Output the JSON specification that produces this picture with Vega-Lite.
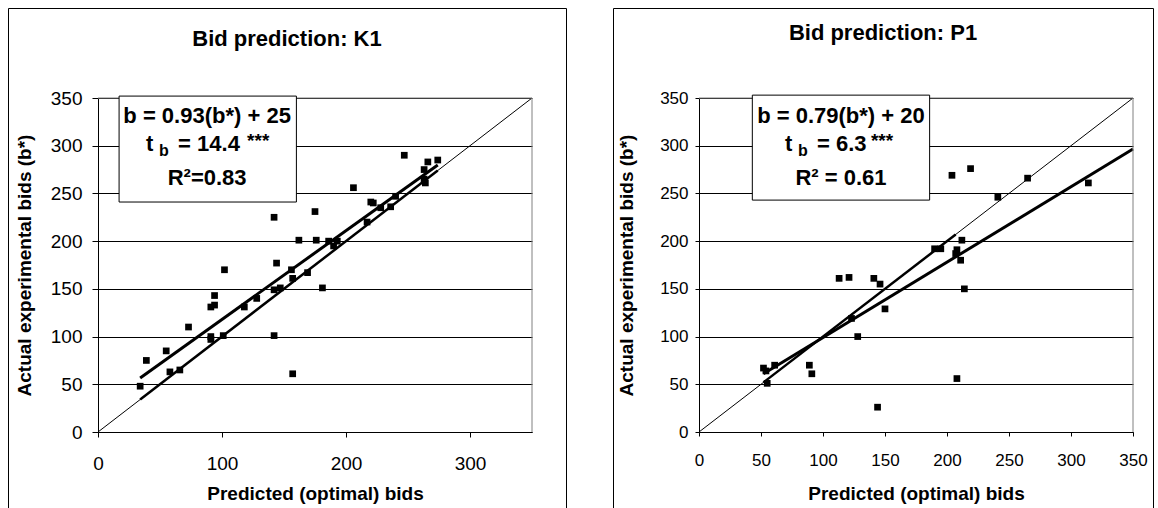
{
  "$schema": "https://vega.github.io/schema/vega-lite/v6.json",
  "background": "white",
  "padding": {"left": 7, "top": 7, "right": 0, "bottom": 0},
  "bounds": "flush",
  "spacing": 47,
  "config": {
    "font": "Liberation Sans",
    "view": {"stroke": "black", "strokeWidth": 1},
    "axis": {
      "labelFont": "Liberation Sans",
      "titleFont": "Liberation Sans",
      "labelColor": "black",
      "titleColor": "black",
      "domainColor": "black",
      "tickColor": "black",
      "gridColor": "black",
      "gridOpacity": 1,
      "gridWidth": 1,
      "domainWidth": 1,
      "tickWidth": 1,
      "titleFontWeight": "bold",
      "labelFlush": false,
      "labelOverlap": false
    },
    "title": {"font": "Liberation Sans", "fontWeight": "bold", "color": "black"}
  },
  "datasets": {
    "one": [{}],
    "k1_points": [
      {"pred": 34, "actual": 48}, {"pred": 39, "actual": 75}, {"pred": 55, "actual": 85},
      {"pred": 58, "actual": 63}, {"pred": 66, "actual": 65}, {"pred": 73, "actual": 110},
      {"pred": 91, "actual": 100}, {"pred": 91, "actual": 97}, {"pred": 91, "actual": 131},
      {"pred": 94, "actual": 133}, {"pred": 94, "actual": 143}, {"pred": 101, "actual": 101},
      {"pred": 102, "actual": 170}, {"pred": 118, "actual": 131}, {"pred": 128, "actual": 140},
      {"pred": 142, "actual": 101}, {"pred": 142, "actual": 149}, {"pred": 142, "actual": 225},
      {"pred": 144, "actual": 177}, {"pred": 147, "actual": 151}, {"pred": 156, "actual": 170},
      {"pred": 157, "actual": 161}, {"pred": 157, "actual": 61}, {"pred": 162, "actual": 201},
      {"pred": 169, "actual": 167}, {"pred": 175, "actual": 231}, {"pred": 176, "actual": 201},
      {"pred": 181, "actual": 151}, {"pred": 186, "actual": 200}, {"pred": 190, "actual": 195},
      {"pred": 193, "actual": 200}, {"pred": 206, "actual": 256}, {"pred": 217, "actual": 220},
      {"pred": 220, "actual": 241}, {"pred": 222, "actual": 240}, {"pred": 228, "actual": 235},
      {"pred": 236, "actual": 236}, {"pred": 240, "actual": 247}, {"pred": 247, "actual": 290},
      {"pred": 263, "actual": 275}, {"pred": 263, "actual": 265}, {"pred": 264, "actual": 261},
      {"pred": 266, "actual": 283}, {"pred": 274, "actual": 285}
    ],
    "k1_reg": [{"pred": 34, "actual": 56.6, "pred2": 274, "actual2": 279.8}],
    "k1_diag": [{"pred": 0, "actual": 0, "pred2": 350, "actual2": 350}],
    "k1_thick": [{"pred": 34, "actual": 34, "pred2": 274, "actual2": 274}],
    "p1_points": [
      {"pred": 52, "actual": 67}, {"pred": 54, "actual": 64}, {"pred": 55, "actual": 51},
      {"pred": 61, "actual": 70}, {"pred": 89, "actual": 70}, {"pred": 91, "actual": 61},
      {"pred": 113, "actual": 161}, {"pred": 121, "actual": 162}, {"pred": 123, "actual": 119},
      {"pred": 128, "actual": 100}, {"pred": 141, "actual": 161}, {"pred": 144, "actual": 26},
      {"pred": 146, "actual": 155}, {"pred": 150, "actual": 129}, {"pred": 190, "actual": 192},
      {"pred": 195, "actual": 192}, {"pred": 204, "actual": 269}, {"pred": 207, "actual": 187},
      {"pred": 208, "actual": 191}, {"pred": 208, "actual": 56}, {"pred": 211, "actual": 180},
      {"pred": 212, "actual": 201}, {"pred": 214, "actual": 150}, {"pred": 219, "actual": 276},
      {"pred": 241, "actual": 246}, {"pred": 265, "actual": 266}, {"pred": 314, "actual": 261}
    ],
    "p1_reg": [{"pred": 52, "actual": 61.1, "pred2": 350, "actual2": 296.5}],
    "p1_diag": [{"pred": 0, "actual": 0, "pred2": 350, "actual2": 350}],
    "p1_thick": [{"pred": 52, "actual": 52, "pred2": 207, "actual2": 207}]
  },
  "hconcat": [
    {
      "width": 558,
      "height": 500,
      "title": {"text": "Bid prediction: K1", "fontSize": 22, "offset": -43, "frame": "group", "anchor": "middle"},
      "layer": [
        {
          "data": {"name": "k1_points"},
          "mark": {"type": "square", "color": "black", "size": 45, "opacity": 1},
          "encoding": {
            "x": {"field": "pred", "type": "quantitative",
              "scale": {"domain": [0, 350], "range": [90, 524], "nice": false},
              "axis": {"orient": "bottom", "offset": -76, "values": [0, 100, 200, 300], "grid": false,
                "tickSize": 5, "labelFontSize": 19, "labelPadding": 17,
                "title": "Predicted (optimal) bids", "titleFontSize": 19, "titlePadding": 11}},
            "y": {"field": "actual", "type": "quantitative",
              "scale": {"domain": [0, 350], "range": [424, 90], "nice": false},
              "axis": {"orient": "left", "offset": -90, "values": [0, 50, 100, 150, 200, 250, 300, 350], "grid": true,
                "tickSize": 6, "labelFontSize": 19, "labelPadding": 10,
                "title": "Actual experimental bids (b*)", "titleFontSize": 19, "titlePadding": 16}}
          }
        },
        {
          "data": {"name": "k1_diag"},
          "mark": {"type": "rule", "color": "black", "strokeWidth": 1},
          "encoding": {"x": {"field": "pred", "type": "quantitative"}, "y": {"field": "actual", "type": "quantitative"},
            "x2": {"field": "pred2"}, "y2": {"field": "actual2"}}
        },
        {
          "data": {"name": "k1_thick"},
          "mark": {"type": "rule", "color": "black", "strokeWidth": 2.5},
          "encoding": {"x": {"field": "pred", "type": "quantitative"}, "y": {"field": "actual", "type": "quantitative"},
            "x2": {"field": "pred2"}, "y2": {"field": "actual2"}}
        },
        {
          "data": {"name": "k1_reg"},
          "mark": {"type": "rule", "color": "black", "strokeWidth": 3},
          "encoding": {"x": {"field": "pred", "type": "quantitative"}, "y": {"field": "actual", "type": "quantitative"},
            "x2": {"field": "pred2"}, "y2": {"field": "actual2"}}
        },
        {
          "data": {"name": "one"},
          "mark": {"type": "rule", "color": "#808080", "strokeWidth": 1},
          "encoding": {"x": {"datum": 0}, "x2": {"datum": 350}, "y": {"datum": 350}}
        },
        {
          "data": {"name": "one"},
          "mark": {"type": "rule", "color": "#808080", "strokeWidth": 1},
          "encoding": {"x": {"datum": 350}, "y": {"datum": 0}, "y2": {"datum": 350}}
        },
        {
          "data": {"name": "one"},
          "mark": {"type": "rect", "fill": "white", "stroke": "black", "strokeWidth": 1},
          "encoding": {"x": {"datum": 17}, "x2": {"datum": 160}, "y": {"datum": 241}, "y2": {"datum": 352}}
        },
        {
          "data": {"name": "one"},
          "mark": {"type": "text", "text": "b = 0.93(b*) + 25", "fontSize": 22, "fontWeight": "bold", "align": "center", "baseline": "middle", "color": "black"},
          "encoding": {"x": {"datum": 88}, "y": {"datum": 331}}
        },
        {
          "data": {"name": "one"},
          "mark": {"type": "text", "text": "t", "fontSize": 22, "fontWeight": "bold", "align": "left", "baseline": "middle", "dx": -61, "color": "black"},
          "encoding": {"x": {"datum": 88}, "y": {"datum": 302}}
        },
        {
          "data": {"name": "one"},
          "mark": {"type": "text", "text": "b", "fontSize": 16, "fontWeight": "bold", "align": "left", "baseline": "middle", "dx": -48, "dy": 7, "color": "black"},
          "encoding": {"x": {"datum": 88}, "y": {"datum": 302}}
        },
        {
          "data": {"name": "one"},
          "mark": {"type": "text", "text": "= 14.4", "fontSize": 22, "fontWeight": "bold", "align": "left", "baseline": "middle", "dx": -29, "color": "black"},
          "encoding": {"x": {"datum": 88}, "y": {"datum": 302}}
        },
        {
          "data": {"name": "one"},
          "mark": {"type": "text", "text": "***", "fontSize": 19, "fontWeight": "bold", "align": "left", "baseline": "middle", "dx": 40, "dy": -3, "color": "black"},
          "encoding": {"x": {"datum": 88}, "y": {"datum": 302}}
        },
        {
          "data": {"name": "one"},
          "mark": {"type": "text", "text": "R²=0.83", "fontSize": 22, "fontWeight": "bold", "align": "center", "baseline": "middle", "color": "black"},
          "encoding": {"x": {"datum": 88}, "y": {"datum": 266}}
        }
      ]
    },
    {
      "width": 540,
      "height": 500,
      "title": {"text": "Bid prediction: P1", "fontSize": 22, "offset": -37, "frame": "group", "anchor": "middle"},
      "layer": [
        {
          "data": {"name": "p1_points"},
          "mark": {"type": "square", "color": "black", "size": 45, "opacity": 1},
          "encoding": {
            "x": {"field": "pred", "type": "quantitative",
              "scale": {"domain": [0, 350], "range": [86, 520], "nice": false},
              "axis": {"orient": "bottom", "offset": -76, "values": [0, 50, 100, 150, 200, 250, 300, 350], "grid": false,
                "tickSize": 4, "labelFontSize": 17, "labelPadding": 16,
                "title": "Predicted (optimal) bids", "titleFontSize": 19, "titlePadding": 16}},
            "y": {"field": "actual", "type": "quantitative",
              "scale": {"domain": [0, 350], "range": [424, 90], "nice": false},
              "axis": {"orient": "left", "offset": -86, "values": [0, 50, 100, 150, 200, 250, 300, 350], "grid": true,
                "tickSize": 4, "labelFontSize": 17, "labelPadding": 7,
                "title": "Actual experimental bids (b*)", "titleFontSize": 19, "titlePadding": 23}}
          }
        },
        {
          "data": {"name": "p1_diag"},
          "mark": {"type": "rule", "color": "black", "strokeWidth": 1},
          "encoding": {"x": {"field": "pred", "type": "quantitative"}, "y": {"field": "actual", "type": "quantitative"},
            "x2": {"field": "pred2"}, "y2": {"field": "actual2"}}
        },
        {
          "data": {"name": "p1_thick"},
          "mark": {"type": "rule", "color": "black", "strokeWidth": 2.5},
          "encoding": {"x": {"field": "pred", "type": "quantitative"}, "y": {"field": "actual", "type": "quantitative"},
            "x2": {"field": "pred2"}, "y2": {"field": "actual2"}}
        },
        {
          "data": {"name": "p1_reg"},
          "mark": {"type": "rule", "color": "black", "strokeWidth": 3},
          "encoding": {"x": {"field": "pred", "type": "quantitative"}, "y": {"field": "actual", "type": "quantitative"},
            "x2": {"field": "pred2"}, "y2": {"field": "actual2"}}
        },
        {
          "data": {"name": "one"},
          "mark": {"type": "rule", "color": "#808080", "strokeWidth": 1},
          "encoding": {"x": {"datum": 0}, "x2": {"datum": 350}, "y": {"datum": 350}}
        },
        {
          "data": {"name": "one"},
          "mark": {"type": "rule", "color": "#808080", "strokeWidth": 1},
          "encoding": {"x": {"datum": 350}, "y": {"datum": 0}, "y2": {"datum": 350}}
        },
        {
          "data": {"name": "one"},
          "mark": {"type": "rect", "fill": "white", "stroke": "black", "strokeWidth": 1},
          "encoding": {"x": {"datum": 43}, "x2": {"datum": 186}, "y": {"datum": 243}, "y2": {"datum": 353}}
        },
        {
          "data": {"name": "one"},
          "mark": {"type": "text", "text": "b = 0.79(b*) + 20", "fontSize": 22, "fontWeight": "bold", "align": "center", "baseline": "middle", "color": "black"},
          "encoding": {"x": {"datum": 114.5}, "y": {"datum": 331}}
        },
        {
          "data": {"name": "one"},
          "mark": {"type": "text", "text": "t", "fontSize": 22, "fontWeight": "bold", "align": "left", "baseline": "middle", "dx": -56, "color": "black"},
          "encoding": {"x": {"datum": 114.5}, "y": {"datum": 302}}
        },
        {
          "data": {"name": "one"},
          "mark": {"type": "text", "text": "b", "fontSize": 16, "fontWeight": "bold", "align": "left", "baseline": "middle", "dx": -43, "dy": 7, "color": "black"},
          "encoding": {"x": {"datum": 114.5}, "y": {"datum": 302}}
        },
        {
          "data": {"name": "one"},
          "mark": {"type": "text", "text": "= 6.3", "fontSize": 22, "fontWeight": "bold", "align": "left", "baseline": "middle", "dx": -24, "color": "black"},
          "encoding": {"x": {"datum": 114.5}, "y": {"datum": 302}}
        },
        {
          "data": {"name": "one"},
          "mark": {"type": "text", "text": "***", "fontSize": 19, "fontWeight": "bold", "align": "left", "baseline": "middle", "dx": 30, "dy": -3, "color": "black"},
          "encoding": {"x": {"datum": 114.5}, "y": {"datum": 302}}
        },
        {
          "data": {"name": "one"},
          "mark": {"type": "text", "text": "R² = 0.61", "fontSize": 22, "fontWeight": "bold", "align": "center", "baseline": "middle", "color": "black"},
          "encoding": {"x": {"datum": 114.5}, "y": {"datum": 266}}
        }
      ]
    }
  ]
}
